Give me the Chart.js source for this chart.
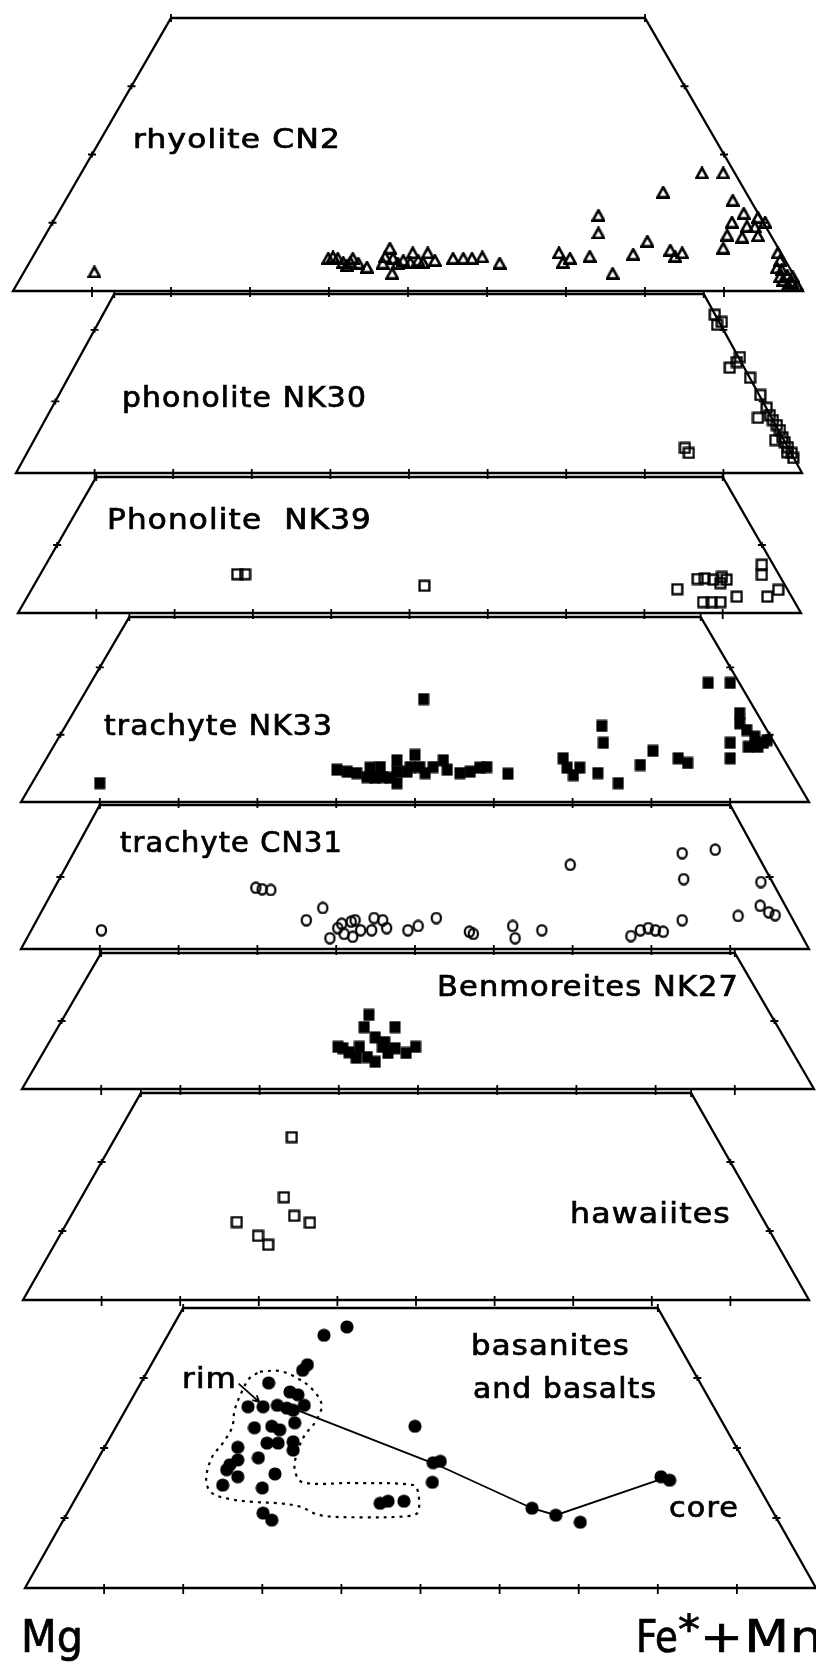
<!DOCTYPE html>
<html>
<head>
<meta charset="utf-8">
<title>Mg - Fe*+Mn</title>
<script src="https://cdn.jsdelivr.net/npm/chart.js@4.4.1/dist/chart.umd.min.js"></script>
<style>
  html, body { margin: 0; padding: 0; background: #fff; }
  #page { position: relative; width: 816px; height: 1662px; overflow: hidden; background: #fff; }
  #page canvas { position: absolute; }
</style>
</head>
<body>
<div id="page"></div>
<script>
// Each point: [position along the Mg -> Fe*+Mn base (%), apex component (%)]
const rhyoliteCN2 = [
  [10.3, 2.8], [39.9, 4.8], [40.5, 5.0], [41.1, 4.8], [41.8, 4.2], [42.7, 4.2], [43.0, 4.8],
  [43.7, 4.1], [44.8, 3.5], [42.3, 3.8], [47.7, 6.3], [47.1, 5.0], [48.1, 4.8], [46.8, 4.1],
  [48.7, 4.1], [48.0, 2.6], [49.4, 4.5], [50.6, 5.6], [50.3, 4.2], [51.3, 4.5], [52.5, 5.6],
  [51.9, 4.2], [53.4, 4.5], [55.7, 4.8], [57.0, 4.8], [58.1, 4.8], [59.4, 5.0], [61.6, 4.1],
  [69.1, 5.6], [70.5, 4.8], [69.6, 4.2], [73.0, 5.1], [75.9, 2.6], [78.5, 5.4], [80.3, 7.3],
  [83.2, 6.0], [84.7, 5.6], [83.8, 5.1], [74.1, 11.1], [74.1, 8.5], [82.3, 14.5], [87.2, 17.3],
  [89.9, 17.3], [91.1, 13.3], [92.5, 11.4], [94.3, 10.8], [92.9, 9.5], [93.9, 9.4], [91.0, 10.1],
  [90.4, 8.2], [92.3, 7.9], [94.3, 8.1], [89.9, 6.3], [95.2, 10.1], [96.8, 5.6], [97.1, 4.5],
  [96.7, 3.4], [97.3, 3.1], [98.0, 2.3], [97.5, 1.6], [98.6, 1.3], [99.2, 0.9], [98.1, 0.9],
  [98.7, 2.1], [97.1, 2.1]
];
const phonoliteNK30 = [
  [88.9, 22.1], [89.8, 21.1], [89.2, 20.7], [92.1, 16.2], [91.7, 15.5], [90.8, 14.7], [93.4, 13.3],
  [94.7, 10.9], [94.4, 7.7], [95.5, 9.1], [95.9, 8.1], [96.3, 7.4], [96.8, 6.7], [97.2, 6.0],
  [97.5, 5.0], [97.8, 4.3], [98.2, 3.6], [98.7, 2.8], [98.9, 2.1], [96.6, 4.6], [98.1, 2.9],
  [85.1, 3.5], [85.6, 2.8]
];
const phonoliteNK39 = [
  [28.0, 5.7], [29.0, 5.7], [51.9, 4.0], [84.2, 3.5], [86.8, 5.0], [87.7, 5.1], [88.8, 4.9],
  [89.9, 5.3], [90.5, 4.9], [89.7, 4.4], [87.5, 1.6], [88.6, 1.6], [89.7, 1.6], [91.8, 2.4],
  [95.0, 7.1], [95.0, 5.6], [95.7, 2.4], [97.1, 3.4]
];
const trachyteNK33 = [
  [10.0, 2.8], [51.1, 15.3], [73.7, 11.3], [73.9, 8.8], [87.2, 17.7], [90.0, 17.7], [91.2, 13.2],
  [91.2, 11.7], [92.1, 10.7], [93.1, 9.7], [94.2, 8.8], [92.3, 8.2], [93.5, 8.2], [94.7, 9.2],
  [90.0, 8.8], [90.0, 6.5], [80.2, 7.6], [78.6, 5.5], [83.4, 6.5], [84.6, 5.8], [75.8, 2.8],
  [73.2, 4.3], [68.8, 6.5], [69.3, 5.1], [70.1, 4.0], [70.9, 5.1], [61.8, 4.2],
  [40.1, 4.8], [41.4, 4.5], [42.6, 4.3], [43.9, 3.7], [44.3, 5.1], [45.6, 5.2], [45.9, 3.7],
  [47.7, 6.2], [47.7, 4.5], [47.7, 2.8], [49.0, 4.5], [50.0, 7.0], [49.4, 5.2], [50.6, 5.2],
  [51.3, 4.3], [52.3, 5.2], [53.6, 6.2], [54.1, 4.8], [55.7, 4.3], [57.0, 4.5], [58.2, 5.1],
  [59.1, 5.2], [46.8, 3.6], [44.9, 3.6]
];
const trachyteCN31 = [
  [10.2, 2.6], [29.8, 8.5], [30.6, 8.3], [31.7, 8.2], [36.2, 4.0], [38.3, 5.7], [39.2, 1.5],
  [40.2, 2.9], [41.0, 2.1], [42.1, 1.7], [41.9, 3.8], [43.1, 2.6], [44.5, 2.6], [44.8, 4.3],
  [45.9, 4.0], [46.4, 2.9], [40.7, 3.5], [42.4, 4.0], [49.1, 2.6], [50.4, 3.2], [52.7, 4.3],
  [56.9, 2.4], [57.4, 2.1], [62.4, 3.2], [62.7, 1.5], [66.1, 2.6], [69.7, 11.7], [77.4, 1.8],
  [78.6, 2.6], [79.6, 2.9], [80.5, 2.6], [81.5, 2.4], [83.9, 4.0], [83.9, 13.3], [88.1, 13.8],
  [84.1, 9.7], [93.9, 9.3], [91.0, 4.6], [93.8, 6.0], [94.9, 5.1], [95.7, 4.7]
];
const benmoreitesNK27 = [
  [43.8, 10.9], [43.2, 9.1], [47.1, 9.1], [44.6, 7.6], [45.8, 6.9], [40.5, 6.0], [42.6, 6.2],
  [43.6, 4.7], [44.6, 4.0], [46.2, 5.3], [47.1, 6.0], [42.2, 4.6], [49.7, 6.2], [48.5, 5.3],
  [41.3, 5.4], [39.9, 6.2], [45.5, 6.2]
];
const hawaiites = [
  [34.2, 23.6], [33.2, 14.9], [34.5, 12.2], [36.5, 11.2], [27.2, 11.3], [29.9, 9.3], [31.2, 8.0]
];
const basanites = [
  [37.8, 36.1], [40.7, 37.3], [35.7, 31.9], [35.1, 31.1], [30.8, 29.3], [33.5, 28.0], [34.5, 27.6],
  [35.3, 26.1], [28.2, 25.9], [30.1, 25.9], [31.9, 26.1], [33.1, 25.7], [33.9, 25.4], [29.0, 22.9],
  [31.2, 23.1], [32.2, 22.6], [34.1, 23.6], [33.9, 20.9], [33.9, 19.7], [30.6, 20.7], [32.0, 20.7],
  [26.9, 20.1], [29.5, 18.6], [25.9, 17.6], [26.9, 18.3], [25.5, 16.9], [26.9, 15.9], [31.6, 16.3],
  [25.0, 14.7], [30.0, 14.3], [30.1, 10.7], [31.2, 9.7], [44.9, 12.1], [45.9, 12.4], [47.9, 12.4],
  [49.3, 23.1], [51.6, 17.9], [52.5, 18.1], [51.5, 15.1], [64.1, 11.4], [67.1, 10.4], [70.2, 9.4],
  [80.4, 15.9], [81.5, 15.4]
];
// rim -> core traverse
const rimCoreProfile = [[34.4, 25.4], [52.1, 17.6], [64.1, 11.4], [67.1, 10.4], [80.8, 15.7]];
// dotted field around the rim compositions
const rimField = [
  [29.7, 30.9], [32.2, 31.0], [34.4, 30.0], [36.4, 28.3], [37.5, 26.1], [36.7, 23.7], [35.4, 21.9],
  [34.4, 19.3], [34.1, 16.9], [35.1, 15.1], [41.5, 15.0], [49.1, 14.7], [49.7, 13.6], [49.7, 10.9],
  [48.7, 10.3], [42.7, 10.1], [37.3, 10.4], [34.8, 11.6], [32.2, 12.1], [28.8, 12.3], [25.9, 12.7],
  [23.6, 13.6], [22.9, 15.4], [23.6, 18.6], [25.0, 20.7], [26.2, 23.0], [26.5, 25.4], [27.4, 28.0],
  [28.4, 30.0], [29.7, 30.9]
];
const rimArrow = [[27.0, 29.2], [29.6, 26.6]];

const FONT = '"DejaVu Sans Condensed", "DejaVu Sans", "Liberation Sans", sans-serif';
const PAGE_H = 1662;

// box = [left, top, right, bottom] of the strip in page pixels, top = apex % at the top edge
const panels = [
  { data: rhyoliteCN2, marker: 'openTriangle', top: 40, box: [13, 18, 803, 291],
    labels: [{ t: 'rhyolite CN2', x: 133, b: 148, w: 208, s: 27 }] },
  { data: phonoliteNK30, marker: 'openSquare', top: 25, box: [16, 294, 802, 473],
    labels: [{ t: 'phonolite NK30', x: 122, b: 407, w: 245, s: 28 }] },
  { data: phonoliteNK39, marker: 'openSquare', top: 20, box: [18, 477, 801, 613],
    labels: [{ t: 'Phonolite  NK39', x: 107, b: 529, w: 265, s: 29 }] },
  { data: trachyteNK33, marker: 'filledSquare', top: 27.5, box: [21, 617, 809, 802],
    labels: [{ t: 'trachyte NK33', x: 104, b: 735, w: 229, s: 29 }] },
  { data: trachyteCN31, marker: 'openCircle', top: 20, box: [21, 805, 809, 949],
    labels: [{ t: 'trachyte CN31', x: 120, b: 852, w: 223, s: 28 }] },
  { data: benmoreitesNK27, marker: 'filledSquare', top: 20, box: [22, 953, 814, 1089],
    labels: [{ t: 'Benmoreites NK27', x: 437, b: 996, w: 302, s: 29 }] },
  { data: hawaiites, marker: 'openSquare', top: 30, box: [23, 1093, 809, 1300],
    labels: [{ t: 'hawaiites', x: 570, b: 1223, w: 161, s: 29 }] },
  { data: basanites, marker: 'filledCircle', top: 40, box: [25, 1308, 816, 1588], last: true,
    labels: [
      { t: 'basanites', x: 471, b: 1355, w: 159, s: 28 },
      { t: 'and basalts', x: 473, b: 1398, w: 184, s: 28 },
      { t: 'rim', x: 182, b: 1388, w: 55, s: 28 },
      { t: 'core', x: 669, b: 1517, w: 70, s: 29 },
      { t: 'Mg', x: 21, b: 1652, w: 62, s: 45, sp: 0 },
      { t: 'Fe', x: 636, b: 1652, w: 42, s: 45, sp: 0 },
      { t: '*', x: 678, b: 1644, w: 22, s: 40, sp: 0 },
      { t: '+Mn', x: 700, b: 1652, w: 124, s: 45, sp: 1 }
    ] }
];

// small bitmaps used as point styles
function makeMarker(kind) {
  const c = document.createElement('canvas');
  const g = c.getContext('2d');
  g.strokeStyle = '#000';
  g.fillStyle = '#000';
  if (kind === 'openTriangle') {
    c.width = 14; c.height = 13;
    g.lineWidth = 2.6;
    g.beginPath();
    g.moveTo(7, 1.5); g.lineTo(12.6, 11.6); g.lineTo(1.4, 11.6); g.closePath();
    g.stroke();
  } else if (kind === 'openSquare') {
    c.width = 13; c.height = 13;
    g.lineWidth = 2.3;
    g.strokeRect(1.6, 1.6, 9.8, 9.8);
  } else if (kind === 'filledSquare') {
    c.width = 12; c.height = 13;
    g.fillRect(0.5, 0.5, 11, 12);
  } else if (kind === 'openCircle') {
    c.width = 13; c.height = 13;
    g.lineWidth = 2.2;
    g.beginPath();
    g.ellipse(6.5, 6.5, 4.6, 5.2, 0, 0, Math.PI * 2);
    g.stroke();
  } else {
    c.width = 14; c.height = 14;
    g.beginPath();
    g.arc(7, 7, 6.6, 0, Math.PI * 2);
    g.fill();
  }
  return c;
}

function drawLabel(ctx, lab, ox, oy) {
  ctx.save();
  ctx.fillStyle = '#000';
  ctx.strokeStyle = '#000';
  ctx.lineWidth = 0.7;
  ctx.font = lab.s + 'px ' + FONT;
  ctx.textBaseline = 'alphabetic';
  if ('letterSpacing' in ctx) ctx.letterSpacing = (lab.sp === undefined ? 1 : lab.sp) + 'px';
  const w0 = ctx.measureText(lab.t).width;
  ctx.translate(lab.x - ox, lab.b - oy);
  ctx.scale(lab.w / w0, 1);
  ctx.fillText(lab.t, 0, 0);
  ctx.strokeText(lab.t, 0, 0);
  ctx.restore();
}

// trapezoid outline with ticks, labels and extras
function makeFrame(p, ox, oy) {
  return {
    id: 'frame',
    beforeDatasetsDraw(chart) {
      const { ctx } = chart;
      const xs = chart.scales.x, ys = chart.scales.y;
      const X = v => xs.getPixelForValue(v);
      const Y = v => ys.getPixelForValue(v);
      const H = p.top;
      ctx.save();
      ctx.strokeStyle = '#000';
      ctx.lineWidth = 2.3;
      ctx.beginPath();
      ctx.moveTo(X(0), Y(0));
      ctx.lineTo(X(100), Y(0));
      ctx.lineTo(X(100 - H / 2), Y(H));
      ctx.lineTo(X(H / 2), Y(H));
      ctx.closePath();
      ctx.stroke();

      ctx.lineWidth = 1.8;
      ctx.beginPath();
      for (let v = 10; v < 100; v += 10) {
        ctx.moveTo(X(v), Y(0) - 4);
        ctx.lineTo(X(v), Y(0) + 6);
      }
      for (let h = 10; h < H - 2; h += 10) {
        [X(h / 2), X(100 - h / 2)].forEach(px => {
          ctx.moveTo(px - 4, Y(h)); ctx.lineTo(px + 4, Y(h));
          ctx.moveTo(px, Y(h) - 3); ctx.lineTo(px, Y(h) + 3);
        });
      }
      [X(H / 2), X(100 - H / 2)].forEach(px => {
        ctx.moveTo(px, Y(H) - 4); ctx.lineTo(px, Y(H) + 4);
      });
      ctx.stroke();

      if (p.last) {
        // arrow from "rim" into the rim cluster
        const [a, b] = rimArrow;
        const x1 = X(a[0]), y1 = Y(a[1]), x2 = X(b[0]), y2 = Y(b[1]);
        const ang = Math.atan2(y2 - y1, x2 - x1);
        ctx.lineWidth = 1.8;
        ctx.beginPath();
        ctx.moveTo(x1, y1); ctx.lineTo(x2, y2);
        ctx.moveTo(x2, y2); ctx.lineTo(x2 - 7 * Math.cos(ang - 0.5), y2 - 7 * Math.sin(ang - 0.5));
        ctx.moveTo(x2, y2); ctx.lineTo(x2 - 7 * Math.cos(ang + 0.5), y2 - 7 * Math.sin(ang + 0.5));
        ctx.stroke();
      }
      ctx.restore();
    },
    afterDatasetsDraw(chart) {
      p.labels.forEach(lab => drawLabel(chart.ctx, lab, ox, oy));
    }
  };
}

const page = document.getElementById('page');

panels.forEach(p => {
  const [l, t, r, b] = p.box;
  const pad = { left: 20, right: 20, top: 14, bottom: p.last ? PAGE_H - b : 14 };
  const canvas = document.createElement('canvas');
  const w = (r - l) + pad.left + pad.right;
  const h = (b - t) + pad.top + pad.bottom;
  canvas.width = w;
  canvas.height = h;
  canvas.style.width = w + 'px';
  canvas.style.height = h + 'px';
  canvas.style.left = (l - pad.left) + 'px';
  canvas.style.top = (t - pad.top) + 'px';
  page.appendChild(canvas);

  const datasets = [{
    data: p.data.map(d => ({ x: d[0], y: d[1] })),
    pointStyle: makeMarker(p.marker),
    pointRadius: 6,
    clip: false
  }];
  if (p.last) {
    datasets.unshift({
      data: rimCoreProfile.map(d => ({ x: d[0], y: d[1] })),
      showLine: true,
      borderColor: '#000',
      borderWidth: 1.8,
      pointRadius: 0,
      clip: false
    }, {
      data: rimField.map(d => ({ x: d[0], y: d[1] })),
      showLine: true,
      borderColor: '#000',
      borderWidth: 2.2,
      borderDash: [3, 5],
      tension: 0.35,
      pointRadius: 0,
      clip: false
    });
  }

  new Chart(canvas, {
    type: 'scatter',
    data: { datasets },
    options: {
      responsive: false,
      animation: false,
      devicePixelRatio: 1,
      events: [],
      layout: { padding: pad },
      scales: {
        x: { type: 'linear', min: 0, max: 100, display: false },
        y: { type: 'linear', min: 0, max: p.top, display: false }
      },
      plugins: { legend: { display: false }, tooltip: { enabled: false } }
    },
    plugins: [makeFrame(p, l - pad.left, t - pad.top)]
  });
});
</script>
</body>
</html>
